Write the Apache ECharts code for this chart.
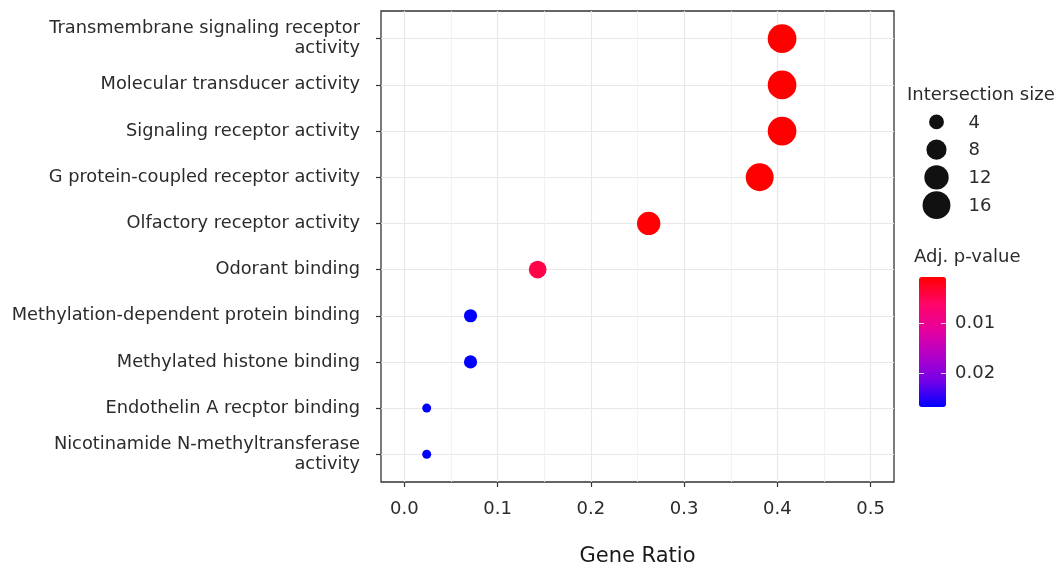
<!DOCTYPE html>
<html>
<head>
<meta charset="utf-8">
<script src="https://cdn.jsdelivr.net/npm/echarts@6/dist/echarts.min.js"></script>
<style>
  html, body { margin: 0; padding: 0; background: #ffffff; }
  #chart { width: 1057px; height: 567px; }
</style>
</head>
<body>
<div id="chart"></div>
<script>
// GO molecular-function enrichment: gene ratio per term, sized by overlap, coloured by adjusted p
const categories = [
  'Transmembrane signaling receptor\nactivity',
  'Molecular transducer activity',
  'Signaling receptor activity',
  'G protein-coupled receptor activity',
  'Olfactory receptor activity',
  'Odorant binding',
  'Methylation-dependent protein binding',
  'Methylated histone binding',
  'Endothelin A recptor binding',
  'Nicotinamide N-methyltransferase\nactivity'
];
const geneRatio = [0.405, 0.405, 0.405, 0.381, 0.262, 0.143, 0.071, 0.071, 0.024, 0.024];
const intersectionSize = [17, 17, 17, 16, 11, 6, 3, 3, 1, 1];
const adjPValue = [0.0008, 0.0008, 0.0008, 0.0008, 0.0010, 0.0045, 0.0268, 0.0268, 0.0268, 0.0268];

const xTicks = [0, 0.1, 0.2, 0.3, 0.4, 0.5];
const xMinorTicks = [0.05, 0.15, 0.25, 0.35, 0.45];
const sizeLegendValues = [4, 8, 12, 16];
const pValueTicks = [0.01, 0.02];

const FONT = 'DejaVu Sans';
const TEXT = '#2b2b2b';
const pMin = Math.min(...adjPValue);
const pMax = Math.max(...adjPValue);

// point area grows linearly with intersection size
function dotSize(v) {
  return Math.sqrt(81 + 46.4 * (v - 1));
}

const rowIndex = categories.map((c, i) => i);
const points = categories.map((c, i) => [geneRatio[i], i, intersectionSize[i], adjPValue[i]]);

const chart = echarts.init(document.getElementById('chart'), null, { renderer: 'canvas' });

chart.setOption({
  backgroundColor: '#ffffff',
  animation: false,
  title: [
    { text: 'Intersection size', left: 907, top: 85, padding: 0,
      textStyle: { fontFamily: FONT, fontSize: 18, fontWeight: 'normal', color: TEXT, lineHeight: 20 } },
    { text: 'Adj. p-value', left: 914, top: 247, padding: 0,
      textStyle: { fontFamily: FONT, fontSize: 18, fontWeight: 'normal', color: TEXT, lineHeight: 20 } }
  ],
  grid: [
    { left: 381, right: 163, top: 11, bottom: 85, show: true, borderColor: '#333333', borderWidth: 1.3,
      backgroundColor: 'transparent', outerBoundsMode: 'none' },
    { left: 919, width: 27, top: 277, height: 130, outerBoundsMode: 'none' },
    { left: 920, width: 33, top: 108, height: 111, outerBoundsMode: 'none' }
  ],
  visualMap: [{
    type: 'continuous',
    seriesIndex: 0,
    dimension: 3,
    min: pMin,
    max: pMax,
    inverse: true,
    orient: 'vertical',
    left: 919,
    top: 277,
    itemWidth: 27,
    itemHeight: 130,
    padding: 0,
    calculable: false,
    hoverLink: false,
    text: null,
    showLabel: false,
    inRange: { color: ['#ff0000', '#ff0566', '#e8009c', '#b400c8', '#7400e8', '#0000ff'] },
    textStyle: { color: 'transparent' }
  }],
  xAxis: [
    { // gene ratio
      type: 'value', gridIndex: 0, min: -0.025, max: 0.525, position: 'bottom',
      name: 'Gene Ratio', nameLocation: 'middle', nameGap: 64,
      nameTextStyle: { fontFamily: FONT, fontSize: 21, color: '#1a1a1a' },
      axisLine: { show: false, onZero: false },
      axisTick: { show: true, length: 5, customValues: xTicks, lineStyle: { color: '#333333', width: 1.2 } },
      axisLabel: { customValues: xTicks, margin: 18, fontFamily: FONT, fontSize: 18, color: TEXT,
                   formatter: v => v.toFixed(1) },
      splitLine: { show: true, lineStyle: { color: '#e8e8e8', width: 1.2 } }
    },
    { // minor vertical gridlines
      type: 'value', gridIndex: 0, min: -0.025, max: 0.525, position: 'bottom',
      axisLine: { show: false, onZero: false },
      axisTick: { show: false, customValues: xMinorTicks },
      axisLabel: { show: false, customValues: xMinorTicks },
      splitLine: { show: true, lineStyle: { color: '#efefef', width: 0.8 } }
    },
    { type: 'value', gridIndex: 1, min: 0, max: 1, show: false },
    { type: 'value', gridIndex: 2, min: -1, max: 1, show: false }
  ],
  yAxis: [
    { // GO terms
      type: 'value', gridIndex: 0, min: -0.6, max: categories.length - 0.4, inverse: true,
      axisLine: { show: false, onZero: false },
      axisTick: { show: true, length: 5, customValues: rowIndex, lineStyle: { color: '#333333', width: 1.2 } },
      axisLabel: { customValues: rowIndex, margin: 21, fontFamily: FONT, fontSize: 17.8, color: TEXT,
                   lineHeight: 20, align: 'right', formatter: v => categories[Math.round(v)] },
      splitLine: { show: true, lineStyle: { color: '#e8e8e8', width: 1.2 } }
    },
    { // colour bar ticks, left edge
      type: 'value', gridIndex: 1, min: pMin, max: pMax, inverse: true, position: 'left', z: 10,
      axisLine: { show: false, onZero: false },
      axisTick: { show: true, inside: true, length: 5, customValues: pValueTicks,
                  lineStyle: { color: 'rgba(255,255,255,0.85)', width: 1 } },
      axisLabel: { show: false, customValues: pValueTicks },
      splitLine: { show: false }
    },
    { // colour bar ticks and labels, right edge
      type: 'value', gridIndex: 1, min: pMin, max: pMax, inverse: true, position: 'right', z: 10,
      axisLine: { show: false, onZero: false },
      axisTick: { show: true, inside: true, length: 5, customValues: pValueTicks,
                  lineStyle: { color: 'rgba(255,255,255,0.85)', width: 1 } },
      axisLabel: { show: true, customValues: pValueTicks, margin: 9, fontFamily: FONT, fontSize: 18,
                   color: TEXT, formatter: v => v.toFixed(2) },
      splitLine: { show: false }
    },
    { // size legend rows
      type: 'category', gridIndex: 2, inverse: true, show: false,
      data: sizeLegendValues.map(String)
    }
  ],
  series: [
    {
      type: 'scatter',
      xAxisIndex: 0, yAxisIndex: 0,
      data: points,
      symbol: 'circle',
      symbolSize: val => dotSize(val[2]),
      itemStyle: { opacity: 1 },
      z: 5
    },
    {
      type: 'scatter',
      xAxisIndex: 3, yAxisIndex: 3,
      data: sizeLegendValues.map((v, i) => [0, i, v]),
      symbol: 'circle',
      symbolSize: val => dotSize(val[2]),
      itemStyle: { color: '#111111', opacity: 1 },
      label: {
        show: true, position: 'inside', offset: [32, 1], align: 'left',
        fontFamily: FONT, fontSize: 18, color: TEXT,
        formatter: p => String(p.value[2])
      }
    }
  ]
});
</script>
</body>
</html>
